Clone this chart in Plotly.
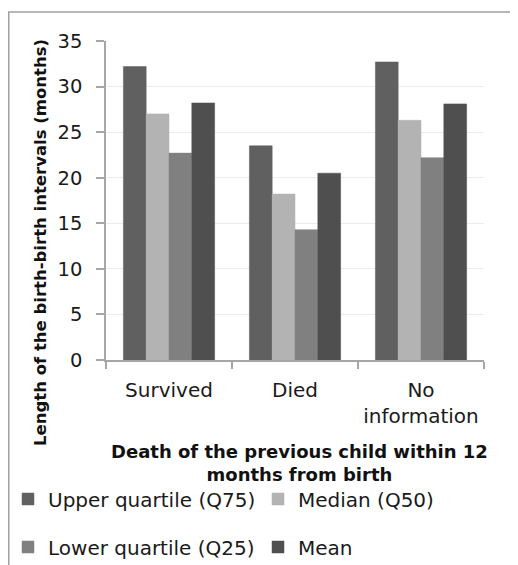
import plotly.graph_objects as go

categories = ["Survived", "Died", "No<br>information"]
q75 = [32.2, 23.5, 32.7]
median = [27.0, 18.2, 26.3]
q25 = [22.7, 14.3, 22.2]
mean = [28.2, 20.5, 28.1]

series_names = ["Upper quartile (Q75)", "Median (Q50)", "Lower quartile (Q25)", "Mean"]
series_colors = ["#606060", "#b3b3b3", "#808080", "#4f4f4f"]
series_legends = ["legend", "legend2", "legend3", "legend4"]
y_ticks = [0, 5, 10, 15, 20, 25, 30, 35]

FONT = "DejaVu Sans"
OFF = 8  # page body margin offset
W, H = 518 - OFF, 565 - OFF
# target screen positions of plot area
SX0, SX1, SY0, SY1 = 106, 484, 41, 360
L, R, T, B = SX0 - OFF, W - (SX1 - OFF), SY0 - OFF, H - (SY1 - OFF)
pw, ph = W - L - R, H - T - B

def px_x(sx):
    return (sx - OFF - L) / pw

def px_y(sy):
    return (H - B - (sy - OFF)) / ph

fig = go.Figure()
for name, vals, col, lg in zip(series_names, [q75, median, q25, mean], series_colors, series_legends):
    fig.add_trace(go.Bar(
        x=categories, y=vals, name=name, legend=lg,
        marker=dict(color=col, line=dict(color=col, width=0.5)),
    ))

legend_pos = {"legend": (3, 499), "legend2": (258, 499), "legend3": (3, 547), "legend4": (258, 547)}
legend_layouts = {}
for key, (lx, ly) in legend_pos.items():
    legend_layouts[key] = dict(
        orientation="h", xref="container", yref="container",
        x=(lx - OFF) / W, xanchor="left", y=1 - (ly - OFF) / H, yanchor="middle",
        font=dict(family=FONT, size=20, color="#1a1a1a"), bgcolor="rgba(0,0,0,0)",
    )

fig.update_layout(
    width=W, height=H,
    margin=dict(l=L, r=R, t=T, b=B, autoexpand=False),
    paper_bgcolor="white", plot_bgcolor="white",
    font=dict(family=FONT, size=19, color="#1a1a1a"),
    barmode="group", bargap=0.276, bargroupgap=0,
    showlegend=True,
    **legend_layouts,
    xaxis=dict(
        automargin=False,
        showline=True, linecolor="#a6a6a6", linewidth=1.5,
        ticks="outside", tickson="boundaries", ticklen=7, tickcolor="#a6a6a6", tickwidth=1.5,
        tickfont=dict(family=FONT, size=20, color="#1a1a1a"),
        ticklabelstandoff=11,
    ),
    yaxis=dict(
        automargin=False,
        range=[0, 35], tickvals=y_ticks,
        showline=True, linecolor="#a6a6a6", linewidth=1.5,
        ticks="outside", ticklen=8, tickcolor="#a6a6a6", tickwidth=1.5,
        showgrid=True, gridcolor="#ececec", gridwidth=1,
        tickfont=dict(family=FONT, size=19.5, color="#1a1a1a"),
        ticklabelstandoff=10,
    ),
    annotations=[
        dict(
            text="<b>Length of the birth-birth intervals (months)</b>",
            textangle=-90, xref="paper", yref="paper",
            x=px_x(40), y=px_y(243), xanchor="center", yanchor="middle",
            showarrow=False, font=dict(family=FONT, size=16.5, color="#111111"),
        ),
        dict(
            text="<b>Death of the previous child within 12<br>months from birth</b>",
            xref="paper", yref="paper",
            x=px_x(299), y=px_y(463), xanchor="center", yanchor="middle",
            showarrow=False, font=dict(family=FONT, size=18, color="#111111"),
        ),
    ],
    shapes=[dict(type="rect", xref="paper", yref="paper",
                 x0=px_x(8.75), x1=px_x(540), y0=px_y(600), y1=px_y(12),
                 line=dict(color="#a0a0a0", width=1.5), fillcolor="rgba(0,0,0,0)", layer="below")],
)

fig.write_html("out.html")
